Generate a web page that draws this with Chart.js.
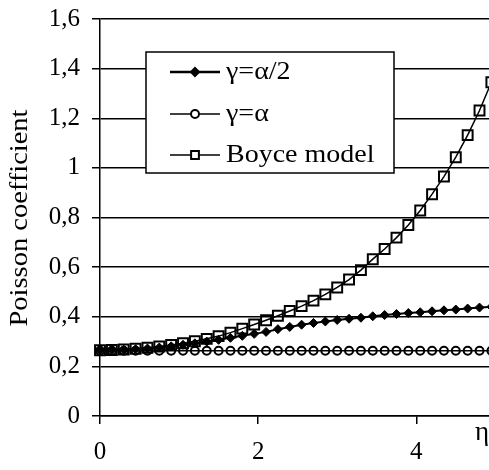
<!DOCTYPE html>
<html>
<head>
<meta charset="utf-8">
<script src="https://cdn.jsdelivr.net/npm/chart.js@4/dist/chart.umd.min.js"></script>
<style>
  html, body { margin: 0; padding: 0; background: #fff; overflow: hidden; }
  #wrap { width: 489px; height: 470px; }
</style>
</head>
<body>
<div id="wrap"><canvas id="c" width="489" height="470"></canvas></div>
<script>
// Loading parameter eta (x values, step 0.15)
const eta = [0, 0.15, 0.30, 0.45, 0.60, 0.75, 0.90, 1.05, 1.20, 1.35, 1.50, 1.65,
             1.80, 1.95, 2.10, 2.25, 2.40, 2.55, 2.70, 2.85, 3.00, 3.15, 3.30, 3.45,
             3.60, 3.75, 3.90, 4.05, 4.20, 4.35, 4.50, 4.65, 4.80, 4.95];

// Poisson coefficient, gamma = alpha / 2
const gammaHalfAlpha = [0.265, 0.266, 0.267, 0.269, 0.272, 0.276, 0.281, 0.287, 0.293, 0.300, 0.307, 0.315,
                        0.323, 0.331, 0.339, 0.350, 0.359, 0.368, 0.375, 0.381, 0.387, 0.392, 0.396, 0.402,
                        0.407, 0.411, 0.415, 0.418, 0.422, 0.426, 0.429, 0.433, 0.437, 0.440];

// Poisson coefficient, gamma = alpha
const gammaAlpha = [0.263, 0.263, 0.263, 0.263, 0.263, 0.263, 0.263, 0.263, 0.263, 0.263, 0.263, 0.263,
                    0.263, 0.263, 0.263, 0.263, 0.263, 0.263, 0.263, 0.263, 0.263, 0.263, 0.263, 0.263,
                    0.263, 0.263, 0.263, 0.263, 0.263, 0.263, 0.263, 0.263, 0.263, 0.263];

// Poisson coefficient, Boyce model
const boyce = [0.265, 0.266, 0.268, 0.271, 0.275, 0.280, 0.286, 0.293, 0.301, 0.311, 0.322, 0.336,
               0.352, 0.369, 0.386, 0.404, 0.423, 0.443, 0.465, 0.490, 0.518, 0.550, 0.588, 0.632,
               0.673, 0.719, 0.770, 0.828, 0.894, 0.965, 1.043, 1.132, 1.231, 1.345];

const seriesNames = ['\u03b3=\u03b1/2', '\u03b3=\u03b1', 'Boyce model'];
const yTickLabels = ['0', '0,2', '0,4', '0,6', '0,8', '1', '1,2', '1,4', '1,6'];
const xTickLabels = ['0', '2', '4'];
const yTitle = 'Poisson coefficient';
const xTitle = '\u03b7';

const pts = arr => arr.map((v, i) => ({ x: eta[i], y: v }));
const SERIF = '"Liberation Serif", "Times New Roman", serif';

// Text drawn slightly widened, like the wide old-style serif used on the axes
function wideText(ctx, text, x, y, sx) {
  ctx.save();
  ctx.translate(x, y);
  ctx.scale(sx, 1);
  ctx.fillText(text, 0, 0);
  ctx.restore();
}

// Axis titles and the boxed legend drawn on top of the plot
const overlay = {
  id: 'overlay',
  afterDraw(chart) {
    const ctx = chart.ctx;
    ctx.save();
    ctx.fillStyle = '#000';
    ctx.font = '25px ' + SERIF;
    ctx.textBaseline = 'middle';

    // y title, rotated, spanning about 217 px
    ctx.save();
    ctx.translate(20, chart.chartArea.top + 199);
    ctx.rotate(-Math.PI / 2);
    ctx.textAlign = 'center';
    const tw = ctx.measureText(yTitle).width;
    wideText(ctx, yTitle, 0, 0, 217 / tw);
    ctx.restore();

    // x title at the end of the axis
    ctx.textAlign = 'right';
    ctx.font = '27px ' + SERIF;
    ctx.fillText(xTitle, 489, chart.chartArea.bottom + 17);
    ctx.font = '25px ' + SERIF;

    // legend box
    const bx = 146, by = 52, bw = 248, bh = 121;
    ctx.fillStyle = '#fff';
    ctx.fillRect(bx, by, bw, bh);
    ctx.strokeStyle = '#000';
    ctx.lineWidth = 1.5;
    ctx.strokeRect(bx, by, bw, bh);

    const rows = [72, 114, 155];
    chart.data.datasets.forEach((ds, i) => {
      const y = rows[i];
      ctx.strokeStyle = '#000';
      ctx.lineWidth = i === 0 ? 2.5 : 1.5;
      ctx.beginPath();
      ctx.moveTo(170, y);
      ctx.lineTo(220, y);
      ctx.stroke();
      ctx.fillStyle = i === 0 ? '#000' : '#fff';
      ctx.lineWidth = 2;
      Chart.helpers.drawPoint(ctx, {
        pointStyle: ds.pointStyle,
        radius: i === 2 ? 5.5 : 4,
        rotation: 0,
        borderWidth: 2
      }, 195, y);
      ctx.fillStyle = '#000';
      ctx.textAlign = 'left';
      wideText(ctx, ds.label, 226, y, 1.12);
    });
    ctx.restore();
  }
};

new Chart(document.getElementById('c'), {
  type: 'line',
  data: {
    datasets: [
      {
        label: seriesNames[0],
        data: pts(gammaHalfAlpha),
        borderColor: '#000',
        borderWidth: 2,
        pointStyle: 'rectRot',
        pointRadius: 4.5,
        pointBackgroundColor: '#000',
        pointBorderColor: '#000',
        pointBorderWidth: 1,
        clip: false
      },
      {
        label: seriesNames[1],
        data: pts(gammaAlpha),
        borderColor: '#000',
        borderWidth: 1.5,
        pointStyle: 'circle',
        pointRadius: 4,
        pointBackgroundColor: 'rgba(0,0,0,0)',
        pointBorderColor: '#000',
        pointBorderWidth: 2,
        clip: false
      },
      {
        label: seriesNames[2],
        data: pts(boyce),
        borderColor: '#000',
        borderWidth: 1.5,
        pointStyle: 'rect',
        pointRadius: 7,
        pointBackgroundColor: 'rgba(0,0,0,0)',
        pointBorderColor: '#000',
        pointBorderWidth: 2,
        clip: false
      }
    ]
  },
  options: {
    responsive: false,
    animation: false,
    events: [],
    layout: { autoPadding: false, padding: { top: 19, right: 0, bottom: 0, left: 0 } },
    plugins: { legend: { display: false }, tooltip: { enabled: false } },
    scales: {
      x: {
        type: 'linear',
        min: 0,
        max: 4.92,
        afterFit: s => { s.height = 54; s.paddingLeft = 0; s.paddingRight = 0; },
        grid: { drawOnChartArea: false, drawTicks: true, tickLength: 8, color: '#000', lineWidth: 1.5 },
        border: { display: true, color: '#000', width: 1.5 },
        ticks: {
          stepSize: 2,
          includeBounds: false,
          padding: 13,
          color: '#000',
          font: { family: SERIF, size: 25 },
          maxRotation: 0,
          callback: (v) => xTickLabels[Math.round(v / 2)]
        }
      },
      y: {
        min: 0,
        max: 1.6,
        afterFit: s => { s.width = 100; s.paddingTop = 0; s.paddingBottom = 0; },
        grid: { color: '#000', lineWidth: 1.5, drawTicks: true, tickLength: 8 },
        border: { display: true, color: '#000', width: 1.5 },
        ticks: {
          stepSize: 0.2,
          padding: 12,
          color: '#000',
          font: { family: SERIF, size: 25 },
          callback: (v) => yTickLabels[Math.round(v / 0.2)]
        }
      }
    }
  },
  plugins: [overlay]
});
</script>
</body>
</html>
